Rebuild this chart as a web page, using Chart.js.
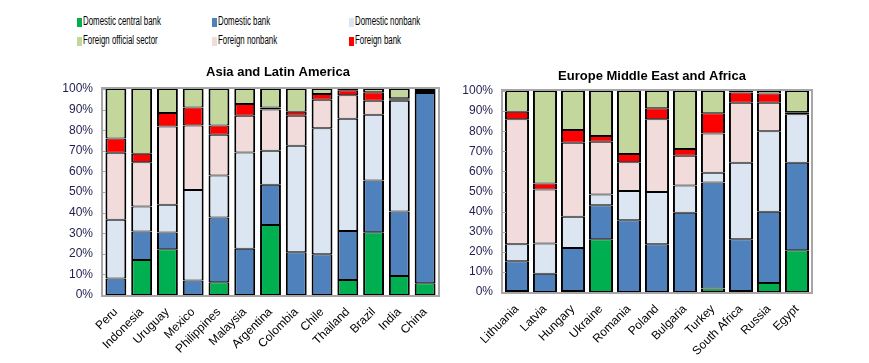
<!DOCTYPE html>
<html>
<head>
<meta charset="utf-8">
<script src="https://cdn.jsdelivr.net/npm/chart.js@4.4.1/dist/chart.umd.min.js"></script>
<style>
  body { margin: 0; background: #fff; width: 869px; height: 363px; overflow: hidden; position: relative; font-family: "Liberation Sans", Arial, sans-serif; }
  canvas { position: absolute; }
  #left { left: 0; top: 55px; }
  #right { left: 450px; top: 55px; }
  .lg { position: absolute; height: 10px; }
  .lg i { position: absolute; left: 0; top: 0; width: 5px; height: 9px; }
  .lg span { position: absolute; left: 6px; top: -4px; font-size: 12.5px; color: #000; white-space: nowrap; transform: scaleX(0.63); transform-origin: 0 0; }
</style>
</head>
<body>
<div id="legend"></div>
<canvas id="left" width="450" height="308"></canvas>
<canvas id="right" width="419" height="308"></canvas>
<script>
// series names, colours (bottom of the stack first)
const seriesNames = ['Domestic central bank', 'Domestic bank', 'Domestic nonbank', 'Foreign nonbank', 'Foreign bank', 'Foreign official sector'];
const seriesColors = ['#00B050', '#4F81BD', '#DCE6F2', '#F2DCDB', '#FF0000', '#C3D69B'];

// Asia and Latin America (% of total)
const asiaLabels = ['Peru', 'Indonesia', 'Uruguay', 'Mexico', 'Philippines', 'Malaysia', 'Argentina', 'Colombia', 'Chile', 'Thailand', 'Brazil', 'India', 'China'];
const asiaCentralBank = [0, 17, 22.2, 0, 6.2, 0, 34, 0, 0, 7.3, 30.5, 9.2, 5.7];
const asiaBank = [8, 13.8, 8.1, 7, 31.4, 22.4, 19.5, 20.7, 19.8, 23.8, 25.1, 31.3, 92.3];
const asiaNonbank = [28.5, 12.2, 13.5, 44, 20.4, 46.8, 16.5, 51.7, 61.2, 54.5, 31.9, 53.8, 0.5];
const asiaForeignNonbank = [32.5, 21.5, 38, 31.3, 19.8, 17.8, 20, 14.6, 13.8, 11.4, 6.8, 0.7, 0.5];
const asiaForeignBank = [7, 4.1, 6.5, 8.7, 4.5, 5.7, 1, 2, 2.8, 2.4, 4.1, 0.5, 0.5];
const asiaForeignOfficial = [24, 31.4, 11.7, 9, 17.7, 7.3, 9, 11, 2.4, 0.6, 1.6, 4.5, 0.5];

// Europe Middle East and Africa (% of total)
const emeaLabels = ['Lithuania', 'Latvia', 'Hungary', 'Ukraine', 'Romania', 'Poland', 'Bulgaria', 'Turkey', 'South Africa', 'Russia', 'Egypt'];
const emeaCentralBank = [0.5, 0, 0.5, 26.2, 0, 0, 0, 1.7, 0.5, 4.5, 20.8];
const emeaBank = [14.8, 9.1, 21.4, 17, 35.7, 23.8, 39.4, 52.8, 25.7, 35.4, 43.5];
const emeaNonbank = [8.5, 15, 15.5, 5.3, 14.5, 26, 13.6, 4.8, 38.1, 40.1, 24.1];
const emeaForeignNonbank = [62.1, 26.9, 36.9, 26.3, 14.4, 36.1, 14.8, 19.6, 29.9, 14.2, 0.8];
const emeaForeignBank = [3.8, 3, 6.3, 2.8, 4, 5.5, 3.3, 10, 5, 4.6, 0.3];
const emeaForeignOfficial = [10.3, 46, 19.4, 22.4, 31.4, 8.6, 28.9, 11.1, 0.8, 1.2, 10.5];

const yTicks = [0, 10, 20, 30, 40, 50, 60, 70, 80, 90, 100];

// legend, two rows of three
const legendOrder = [0, 1, 2, 5, 3, 4];
const legendCols = [77, 212, 349];
const legendRows = [18, 37];
const legendBox = document.getElementById('legend');
legendOrder.forEach((s, i) => {
    const d = document.createElement('div');
    d.className = 'lg';
    d.style.left = legendCols[i % 3] + 'px';
    d.style.top = legendRows[Math.floor(i / 3)] + 'px';
    d.innerHTML = `<i style="background:${seriesColors[s]}"></i><span>${seriesNames[s]}</span>`;
    legendBox.appendChild(d);
});

// grey plot frame, little inner ticks and the panel title
const framePlugin = {
    id: 'frame',
    afterDatasetsDraw(chart, args, opts) {
        const { ctx, chartArea: a } = chart;
        const y = chart.scales.y;
        ctx.save();
        ctx.strokeStyle = '#A6A6A6';
        ctx.lineWidth = 1;
        y.ticks.forEach(t => {
            const py = Math.round(y.getPixelForValue(t.value)) + 0.5;
            ctx.beginPath();
            ctx.moveTo(a.left, py);
            ctx.lineTo(a.left + 3, py);
            ctx.stroke();
        });
        ctx.lineWidth = 2;
        ctx.strokeRect(a.left - 1, a.top - 1, a.right - a.left + 2, a.bottom - a.top + 2);
        ctx.fillStyle = '#000';
        ctx.font = 'bold 13px "Liberation Sans", Arial, sans-serif';
        ctx.textAlign = 'center';
        ctx.textBaseline = 'middle';
        ctx.fillText(opts.text, opts.x, opts.y);
        ctx.restore();
    }
};

function makeChart(id, labels, series, pad, yWidth, xHeight, barPct, title) {
    new Chart(document.getElementById(id), {
        type: 'bar',
        data: {
            labels: labels,
            datasets: series.map((data, i) => ({
                label: seriesNames[i],
                data: data,
                backgroundColor: seriesColors[i],
                borderColor: '#000',
                borderWidth: { left: 2, right: 2, top: 1, bottom: 1 },
                borderSkipped: false,
                categoryPercentage: 1,
                barPercentage: barPct
            }))
        },
        options: {
            responsive: false,
            animation: false,
            layout: { padding: pad },
            plugins: {
                legend: { display: false },
                tooltip: { enabled: false },
                frame: title
            },
            scales: {
                x: {
                    stacked: true,
                    grid: { display: false, drawTicks: false },
                    border: { display: false },
                    ticks: {
                        autoSkip: false, maxRotation: 45, minRotation: 45, padding: 10,
                        color: '#000', font: { size: 12, family: '"Liberation Sans", Arial, sans-serif' }
                    },
                    afterFit: s => { s.height = xHeight; }
                },
                y: {
                    stacked: true,
                    min: 0, max: 100,
                    grid: { display: false, drawTicks: false },
                    border: { display: false },
                    afterBuildTicks: s => { s.ticks = yTicks.map(v => ({ value: v })); },
                    ticks: {
                        padding: 10,
                        color: '#1f1f4f',
                        font: { size: 12, family: '"Liberation Sans", Arial, sans-serif' },
                        callback: v => v + '%'
                    },
                    afterFit: s => { s.width = yWidth; }
                }
            }
        },
        plugins: [framePlugin]
    });
}

makeChart('left', asiaLabels,
    [asiaCentralBank, asiaBank, asiaNonbank, asiaForeignNonbank, asiaForeignBank, asiaForeignOfficial],
    { top: 34, right: 12, left: 0, bottom: 0 }, 103, 68, 0.81,
    { text: 'Asia and Latin America', x: 278, y: 17 });

makeChart('right', emeaLabels,
    [emeaCentralBank, emeaBank, emeaNonbank, emeaForeignNonbank, emeaForeignBank, emeaForeignOfficial],
    { top: 36, right: 58, left: 0, bottom: 0 }, 53, 71, 0.86,
    { text: 'Europe Middle East and Africa', x: 202, y: 21 });
</script>
</body>
</html>
